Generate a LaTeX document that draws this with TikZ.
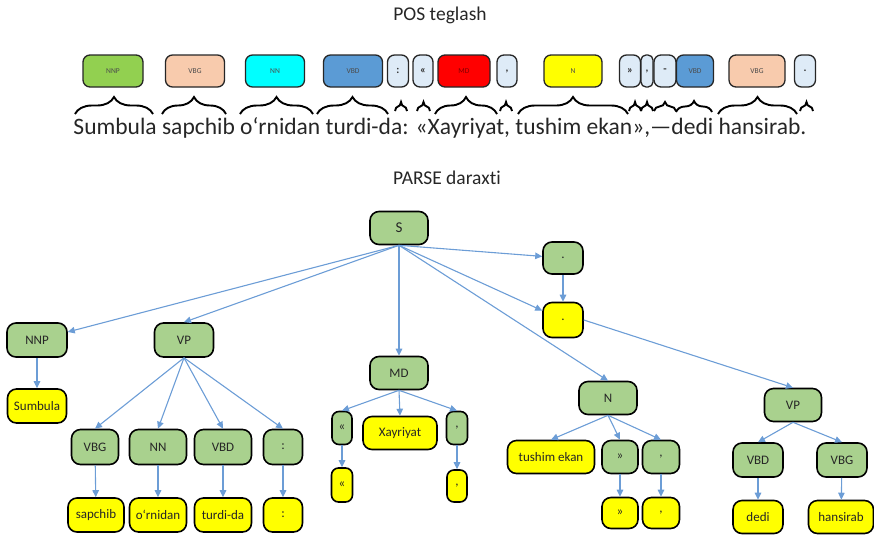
\documentclass[tikz,border=0pt]{standalone}
\usepackage{fontspec}
\setmainfont{Carlito}[Ligatures=NoCommon]
\usetikzlibrary{decorations.pathreplacing,arrows.meta}

\definecolor{nnpgreen}{RGB}{146,208,80}
\definecolor{peach}{RGB}{248,203,173}
\definecolor{cyanbox}{RGB}{0,255,255}
\definecolor{bluebox}{RGB}{91,155,213}
\definecolor{redbox}{RGB}{255,0,0}
\definecolor{palebox}{RGB}{222,235,247}
\definecolor{treegreen}{RGB}{169,209,142}
\definecolor{treeyellow}{RGB}{255,255,0}
\definecolor{arrowblue}{RGB}{108,157,214}

\tikzset{
  tag/.style={draw=black!85, line width=1.3pt, rounded corners=7pt, inner sep=0pt,
    minimum height=32pt, font=\fontsize{7.5}{8}\selectfont, text=black!70},
  punct/.style={tag, fill=palebox, font=\fontsize{11}{12}\selectfont\bfseries, text=black!80},
  tnode/.style={draw=black, line width=1.6pt, rounded corners=9pt, inner sep=0pt,
    minimum height=33pt, font=\fontsize{13}{15}\selectfont, text=black!85},
  gn/.style={tnode, fill=treegreen},
  yn/.style={tnode, fill=treeyellow},
  link/.style={draw=arrowblue, line width=1.1pt, -{Triangle[length=7pt,width=6.5pt]}},
  br/.style={decorate, decoration={brace, amplitude=#1}, line width=1.9pt},
}

\begin{document}
\begin{tikzpicture}[x=1pt,y=-1pt]
\useasboundingbox (0,0) rectangle (874,536);

% headings
\node[font=\fontsize{19.5}{22}\selectfont, text=black!85] (title1) at (440,15) {POS teglash};
\node[font=\fontsize{19.5}{22}\selectfont, text=black!85] (title2) at (447,178) {PARSE daraxti};

% tag row
\node[tag, fill=nnpgreen, minimum width=60pt] (tNNP) at (113,71) {NNP};
\node[tag, fill=peach, minimum width=59pt] (tVBGa) at (195,71) {VBG};
\node[tag, fill=cyanbox, minimum width=59pt] (tNN) at (275,71) {NN};
\node[tag, fill=bluebox, minimum width=59pt] (tVBDa) at (353,71) {VBD};
\node[punct, minimum width=21pt] (tcolon) at (398,71) {:};
\node[punct, minimum width=20pt] (tlaq) at (423,71) {«};
\node[tag, fill=redbox, minimum width=52pt, text=red!50!black] (tMD) at (464,71) {MD};
\node[punct, minimum width=20pt] (tcommaa) at (507,71) {,};
\node[tag, fill=treeyellow, minimum width=58pt] (tN) at (573,71) {N};
\node[punct, minimum width=21pt] (traq) at (630,71) {»};
\node[punct, minimum width=12pt, rounded corners=5pt] (tcommab) at (647,71) {,};
\node[punct, minimum width=22pt] (tdash) at (665,71) {-};
\node[tag, fill=bluebox, minimum width=37pt] (tVBDb) at (695,71) {VBD};
\node[tag, fill=peach, minimum width=56pt] (tVBGb) at (757,71) {VBG};
\node[punct, minimum width=21pt] (tdot) at (805,71) {.};

% braces under the words
\draw[br=17] (75,114) -- (153,114);
\draw[br=17] (162,114) -- (226,114);
\draw[br=17] (240,114) -- (313,114);
\draw[br=17] (317,114) -- (388,114);
\draw[br=9] (395,111) -- (407,111);
\draw[br=9] (417,111) -- (430,111);
\draw[br=17] (435,114) -- (497,114);
\draw[br=9] (500,111) -- (512,111);
\draw[br=17] (518,114) -- (628,114);
\draw[br=9] (629,111) -- (641,111);
\draw[br=9] (641,111) -- (653,111);
\draw[br=9] (654,111) -- (676,111);
\draw[br=11] (676,112) -- (712,112);
\draw[br=17] (718,114) -- (797,114);
\draw[br=9] (800,111) -- (813,111);

% sentence
\node[inner sep=0pt, text=black!85] (sentence) at (440,128)
  {\resizebox{733pt}{!}{Sumbula sapchib o‘rnidan turdi-da: «Xayriyat, tushim ekan»,—dedi hansirab.}};

% parse tree
\node[gn, minimum width=58pt, font=\fontsize{15}{17}\selectfont] (S) at (399,228) {S};
\node[gn, minimum width=40pt, minimum height=32pt] (dotG) at (563,258) {.};
\node[yn, minimum width=40pt, minimum height=35pt] (dotY) at (563,320) {.};

\node[gn, minimum width=60pt, minimum height=34pt] (NNP) at (37,340) {NNP};
\node[yn, minimum width=59pt, minimum height=34pt] (Sumbula) at (37,406) {Sumbula};

\node[gn, minimum width=59pt, minimum height=34pt] (VPa) at (184,340) {VP};
\node[gn, minimum width=47pt, minimum height=35pt] (VBGa) at (95,447) {VBG};
\node[gn, minimum width=57pt, minimum height=35pt] (NNa) at (158,447) {NN};
\node[gn, minimum width=57pt, minimum height=35pt] (VBDa) at (223,447) {VBD};
\node[gn, minimum width=39pt, minimum height=35pt] (colonG) at (283,447) {:};
\node[yn, minimum width=56pt, minimum height=34pt] (sapchib) at (96,515) {sapchib};
\node[yn, minimum width=57pt, minimum height=34pt] (ornidan) at (158,515) {o‘rnidan};
\node[yn, minimum width=57pt, minimum height=34pt] (turdida) at (223,515) {turdi-da};
\node[yn, minimum width=39pt, minimum height=34pt] (colonY) at (283,515) {:};

\node[gn, minimum width=58pt] (MD) at (399,373) {MD};
\node[gn, minimum width=20pt, rounded corners=7pt] (laqG) at (342,428) {«};
\node[yn, minimum width=74pt] (Xayriyat) at (400,433) {Xayriyat};
\node[yn, minimum width=21pt, minimum height=34pt, rounded corners=7pt] (laqY) at (342,485) {«};
\node[gn, minimum width=21pt, rounded corners=7pt] (commaGa) at (457,428) {,};
\node[yn, minimum width=20pt, minimum height=32pt, rounded corners=7pt] (commaYa) at (457,486) {,};

\node[gn, minimum width=58pt] (N) at (608,398) {N};
\node[yn, minimum width=87pt] (tushim) at (551,457) {tushim ekan};
\node[gn, minimum width=36pt] (raqG) at (620,457) {»};
\node[gn, minimum width=37pt] (commaGb) at (661,457) {,};
\node[yn, minimum width=36pt, minimum height=31pt] (raqY) at (620,513) {»};
\node[yn, minimum width=37pt, minimum height=31pt] (commaYb) at (661,513) {,};

\node[gn, minimum width=57pt] (VPb) at (793,405) {VP};
\node[gn, minimum width=50pt, minimum height=34pt] (VBDb) at (758,460) {VBD};
\node[gn, minimum width=50pt, minimum height=34pt] (VBGb) at (842,460) {VBG};
\node[yn, minimum width=50pt] (dedi) at (758,517) {dedi};
\node[yn, minimum width=65pt] (hansirab) at (841,517) {hansirab};

% connectors
\draw[link] (S.south) -- (NNP);
\draw[link] (S.south) -- (VPa.north);
\draw[link] (S.south) -- (MD.north);
\draw[link] (S.south) -- (dotG);
\draw[link] (S.south) -- (dotY);
\draw[link] (S.south) -- (N.north);
\draw[link] (dotG) -- (dotY);
\draw[link] (dotY.east) -- (VPb.north);

\draw[link] (NNP) -- (Sumbula);
\draw[link] (VPa.south) -- (VBGa.north);
\draw[link] (VPa.south) -- (NNa.north);
\draw[link] (VPa.south) -- (VBDa.north);
\draw[link] (VPa.south) -- (colonG.north);
\draw[link] (VBGa) -- (sapchib);
\draw[link] (NNa) -- (ornidan);
\draw[link] (VBDa) -- (turdida);
\draw[link] (colonG) -- (colonY);

\draw[link] (MD.south) -- (laqG.north);
\draw[link] (MD.south) -- (Xayriyat.north);
\draw[link] (MD.south) -- (commaGa.north);
\draw[link] (laqG) -- (laqY);
\draw[link] (commaGa) -- (commaYa);

\draw[link] (N.south) -- (tushim.north);
\draw[link] (N.south) -- (raqG.north);
\draw[link] (N.south) -- (commaGb.north);
\draw[link] (raqG) -- (raqY);
\draw[link] (commaGb) -- (commaYb);

\draw[link] (VPb.south) -- (VBDb.north);
\draw[link] (VPb.south) -- (VBGb.north);
\draw[link] (VBDb) -- (dedi);
\draw[link] (VBGb) -- (hansirab);
\end{tikzpicture}
\end{document}
